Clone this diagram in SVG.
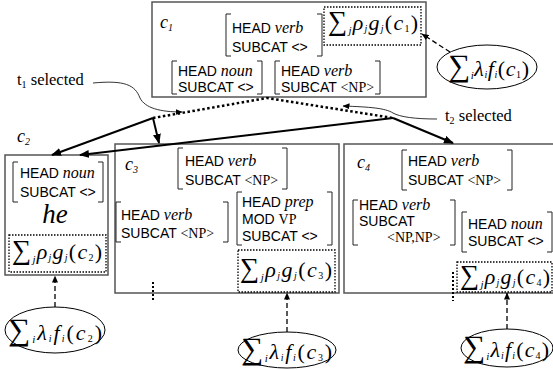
<svg xmlns="http://www.w3.org/2000/svg" width="553" height="370" viewBox="0 0 553 370">
<defs>
<style>
.box{fill:#fff;stroke:#555;stroke-width:1.5}
.br{fill:none;stroke:#222;stroke-width:1}
.dbox{fill:none;stroke:#000;stroke-width:1.3;stroke-dasharray:1.5 1.5}
.a{font-family:"Liberation Sans",Arial,sans-serif;font-size:14px;fill:#000}
.t{font-family:"Liberation Serif","Times New Roman",serif;font-size:14px}
.i{font-family:"Liberation Serif","Times New Roman",serif;font-style:italic;font-size:16px}
.f{font-family:"Liberation Serif","Times New Roman",serif;font-style:italic;font-size:22px;fill:#000}
.sig{font-style:normal;font-size:27px}
.esig{font-style:normal;font-size:31px}
.s1{font-size:11px}
.s2{font-size:10px}
.up{font-style:normal}
.lbl{font-family:"Liberation Serif","Times New Roman",serif;font-style:italic;font-size:18px}
.sel{font-family:"Liberation Serif","Times New Roman",serif;font-size:16.5px}
.thick{fill:none;stroke:#000;stroke-width:2}
.dot{fill:none;stroke:#000;stroke-width:2.5;stroke-dasharray:2.5 2.5}
.vdot{fill:none;stroke:#000;stroke-width:2;stroke-dasharray:2 2}
.dash{fill:none;stroke:#000;stroke-width:1.3;stroke-dasharray:5 3}
.thin{fill:none;stroke:#000;stroke-width:0.8}
.ell{fill:#fff;stroke:#000;stroke-width:1}
</style>
<marker id="ah" markerWidth="10" markerHeight="8" refX="9" refY="4" orient="auto" markerUnits="userSpaceOnUse"><path d="M0,0 L10,4 L0,8 Z" fill="#000"/></marker>
<marker id="ahs" markerWidth="7" markerHeight="6" refX="6.5" refY="3" orient="auto" markerUnits="userSpaceOnUse"><path d="M0,0 L7,3 L0,6 Z" fill="#000"/></marker>
</defs>

<g id="c1">
<rect class="box" x="152" y="2" width="274" height="95"/>
<text class="lbl" x="160" y="28">c<tspan class="s2" dy="3">1</tspan></text>
<path class="br" d="M231,14 H226 V56 H231 M317,14 H322 V56 H317"/>
<text class="a" x="232" y="33">HEAD <tspan class="i">verb</tspan></text>
<text class="a" x="232" y="52">SUBCAT &lt;&gt;</text>
<path class="br" d="M177,61 H172 V94 H177 M257,61 H262 V94 H257"/>
<text class="a" x="178" y="76">HEAD <tspan class="i">noun</tspan></text>
<text class="a" x="178" y="92">SUBCAT &lt;&gt;</text>
<path class="br" d="M280,61 H275 V94 H280 M375,61 H380 V94 H375"/>
<text class="a" x="281" y="76">HEAD <tspan class="i">verb</tspan></text>
<text class="a" x="281" y="92">SUBCAT <tspan class="t">&lt;NP&gt;</tspan></text>
<rect class="dbox" x="324" y="7" width="97" height="38"/>
<text class="f" x="328" y="30" textLength="90" lengthAdjust="spacing"><tspan class="sig">∑</tspan><tspan class="s1" dy="4">j</tspan><tspan dy="-4">ρ</tspan><tspan class="s2" dy="2">j</tspan><tspan dy="-2">g</tspan><tspan class="s2" dy="2">j</tspan><tspan class="up" dy="-2">(</tspan>c<tspan class="s2 up" dy="2">1</tspan><tspan class="up" dy="-2">)</tspan></text>
</g>

<g id="e1">
<ellipse class="ell" cx="487" cy="67" rx="50" ry="22"/>
<text class="f" x="448" y="76" textLength="81" lengthAdjust="spacing"><tspan class="esig">∑</tspan><tspan class="s1" dy="3">i</tspan><tspan dy="-3">λ</tspan><tspan class="s2" dy="2">i</tspan><tspan dy="-2">f</tspan><tspan class="s2" dy="2">i</tspan><tspan class="up" dy="-2">(</tspan>c<tspan class="s2 up" dy="2">1</tspan><tspan class="up" dy="-2">)</tspan></text>
</g>

<g id="c2">
<text class="lbl" x="17" y="142">c<tspan class="s2" dy="3">2</tspan></text>
<rect class="box" x="5" y="155" width="103" height="120"/>
<path class="br" d="M18,162 H13 V202 H18 M98,162 H103 V202 H98"/>
<text class="a" x="20" y="178">HEAD <tspan class="i">noun</tspan></text>
<text class="a" x="20" y="197">SUBCAT &lt;&gt;</text>
<text class="lbl" x="55" y="223" text-anchor="middle" style="font-size:27px">he</text>
<rect class="dbox" x="9" y="235" width="97" height="37"/>
<text class="f" x="12" y="259" textLength="90" lengthAdjust="spacing"><tspan class="sig">∑</tspan><tspan class="s1" dy="4">j</tspan><tspan dy="-4">ρ</tspan><tspan class="s2" dy="2">j</tspan><tspan dy="-2">g</tspan><tspan class="s2" dy="2">j</tspan><tspan class="up" dy="-2">(</tspan>c<tspan class="s2 up" dy="2">2</tspan><tspan class="up" dy="-2">)</tspan></text>
</g>

<g id="e2">
<ellipse class="ell" cx="55" cy="330" rx="50" ry="23"/>
<text class="f" x="8" y="340" textLength="94" lengthAdjust="spacing"><tspan class="esig">∑</tspan><tspan class="s1" dy="3">i</tspan><tspan dy="-3">λ</tspan><tspan class="s2" dy="2">i</tspan><tspan dy="-2">f</tspan><tspan class="s2" dy="2">i</tspan><tspan class="up" dy="-2">(</tspan>c<tspan class="s2 up" dy="2">2</tspan><tspan class="up" dy="-2">)</tspan></text>
</g>

<g id="c3">
<rect class="box" x="115" y="144" width="224" height="149"/>
<text class="lbl" x="125" y="170">c<tspan class="s2" dy="3">3</tspan></text>
<path class="br" d="M183,148 H178 V189 H183 M282,148 H287 V189 H282"/>
<text class="a" x="185" y="166">HEAD <tspan class="i">verb</tspan></text>
<text class="a" x="185" y="185">SUBCAT <tspan class="t">&lt;NP&gt;</tspan></text>
<path class="br" d="M121,202 H116 V242 H121 M223,202 H228 V242 H223"/>
<text class="a" x="121" y="220">HEAD <tspan class="i">verb</tspan></text>
<text class="a" x="121" y="238">SUBCAT <tspan class="t">&lt;NP&gt;</tspan></text>
<path class="br" d="M242,192 H237 V245 H242 M327,192 H332 V245 H327"/>
<text class="a" x="242" y="207">HEAD <tspan class="i">prep</tspan></text>
<text class="a" x="242" y="224">MOD <tspan class="t">VP</tspan></text>
<text class="a" x="242" y="241">SUBCAT &lt;&gt;</text>
<rect class="dbox" x="238" y="250" width="97" height="42"/>
<text class="f" x="240" y="277" textLength="92" lengthAdjust="spacing"><tspan class="sig">∑</tspan><tspan class="s1" dy="4">j</tspan><tspan dy="-4">ρ</tspan><tspan class="s2" dy="2">j</tspan><tspan dy="-2">g</tspan><tspan class="s2" dy="2">j</tspan><tspan class="up" dy="-2">(</tspan>c<tspan class="s2 up" dy="2">3</tspan><tspan class="up" dy="-2">)</tspan></text>
</g>

<g id="e3">
<ellipse class="ell" cx="287" cy="350" rx="49" ry="18"/>
<text class="f" x="241" y="359" textLength="91" lengthAdjust="spacing"><tspan class="esig">∑</tspan><tspan class="s1" dy="3">i</tspan><tspan dy="-3">λ</tspan><tspan class="s2" dy="2">i</tspan><tspan dy="-2">f</tspan><tspan class="s2" dy="2">i</tspan><tspan class="up" dy="-2">(</tspan>c<tspan class="s2 up" dy="2">3</tspan><tspan class="up" dy="-2">)</tspan></text>
</g>

<g id="c4">
<rect class="box" x="344" y="144" width="216" height="149"/>
<text class="lbl" x="357" y="168">c<tspan class="s2" dy="3">4</tspan></text>
<path class="br" d="M407,150 H402 V190 H407 M507,150 H512 V190 H507"/>
<text class="a" x="408" y="166">HEAD <tspan class="i">verb</tspan></text>
<text class="a" x="408" y="185">SUBCAT <tspan class="t">&lt;NP&gt;</tspan></text>
<path class="br" d="M358,200 H353 V245 H358 M450,200 H455 V245 H450"/>
<text class="a" x="359" y="210">HEAD <tspan class="i">verb</tspan></text>
<text class="a" x="359" y="226">SUBCAT</text>
<text class="t" x="387" y="242">&lt;NP,NP&gt;</text>
<path class="br" d="M467,212 H462 V252 H467 M547,212 H552 V252 H547"/>
<text class="a" x="468" y="229">HEAD <tspan class="i">noun</tspan></text>
<text class="a" x="468" y="246">SUBCAT &lt;&gt;</text>
<rect class="dbox" x="457" y="262" width="95" height="30"/>
<text class="f" x="460" y="284" textLength="90" lengthAdjust="spacing"><tspan class="sig">∑</tspan><tspan class="s1" dy="4">j</tspan><tspan dy="-4">ρ</tspan><tspan class="s2" dy="2">j</tspan><tspan dy="-2">g</tspan><tspan class="s2" dy="2">j</tspan><tspan class="up" dy="-2">(</tspan>c<tspan class="s2 up" dy="2">4</tspan><tspan class="up" dy="-2">)</tspan></text>
</g>

<g id="e4">
<ellipse class="ell" cx="507" cy="348" rx="46" ry="19"/>
<text class="f" x="463" y="357" textLength="86" lengthAdjust="spacing"><tspan class="esig">∑</tspan><tspan class="s1" dy="3">i</tspan><tspan dy="-3">λ</tspan><tspan class="s2" dy="2">i</tspan><tspan dy="-2">f</tspan><tspan class="s2" dy="2">i</tspan><tspan class="up" dy="-2">(</tspan>c<tspan class="s2 up" dy="2">4</tspan><tspan class="up" dy="-2">)</tspan></text>
</g>

<g id="labels">
<text class="sel" x="17" y="85">t<tspan font-size="10" dy="3">1</tspan><tspan dy="-3"> selected</tspan></text>
<text class="sel" x="445" y="121">t<tspan font-size="10" dy="3">2</tspan><tspan dy="-3"> selected</tspan></text>
</g>

<g id="connectors">
<path class="dot" d="M153,118 L267,98 L393,118"/>
<path class="thick" d="M153,118 L52,155" marker-end="url(#ah)"/>
<path class="thick" d="M153,118 L159,143" marker-end="url(#ah)"/>
<path class="thick" d="M393,118 L80,155" marker-end="url(#ah)"/>
<path class="thick" d="M393,118 L453,143" marker-end="url(#ah)"/>
<path class="thin" d="M93,83 C125,80 135,85 140,98 C145,108 160,112 182,112" marker-end="url(#ahs)"/>
<path class="thin" d="M437,119 C415,119 400,117 393,113 C385,108 370,107 343,106" marker-end="url(#ahs)"/>
<path class="dash" d="M450,52 L422,34" marker-end="url(#ahs)"/>
<path class="dash" d="M55,307 L55,276" marker-end="url(#ahs)"/>
<path class="dash" d="M287,332 L287,293" marker-end="url(#ahs)"/>
<path class="dash" d="M507,329 L507,293" marker-end="url(#ahs)"/>
<path class="vdot" d="M153,282 V300"/>
<path class="vdot" d="M453,272 V301"/>
</g>
</svg>
